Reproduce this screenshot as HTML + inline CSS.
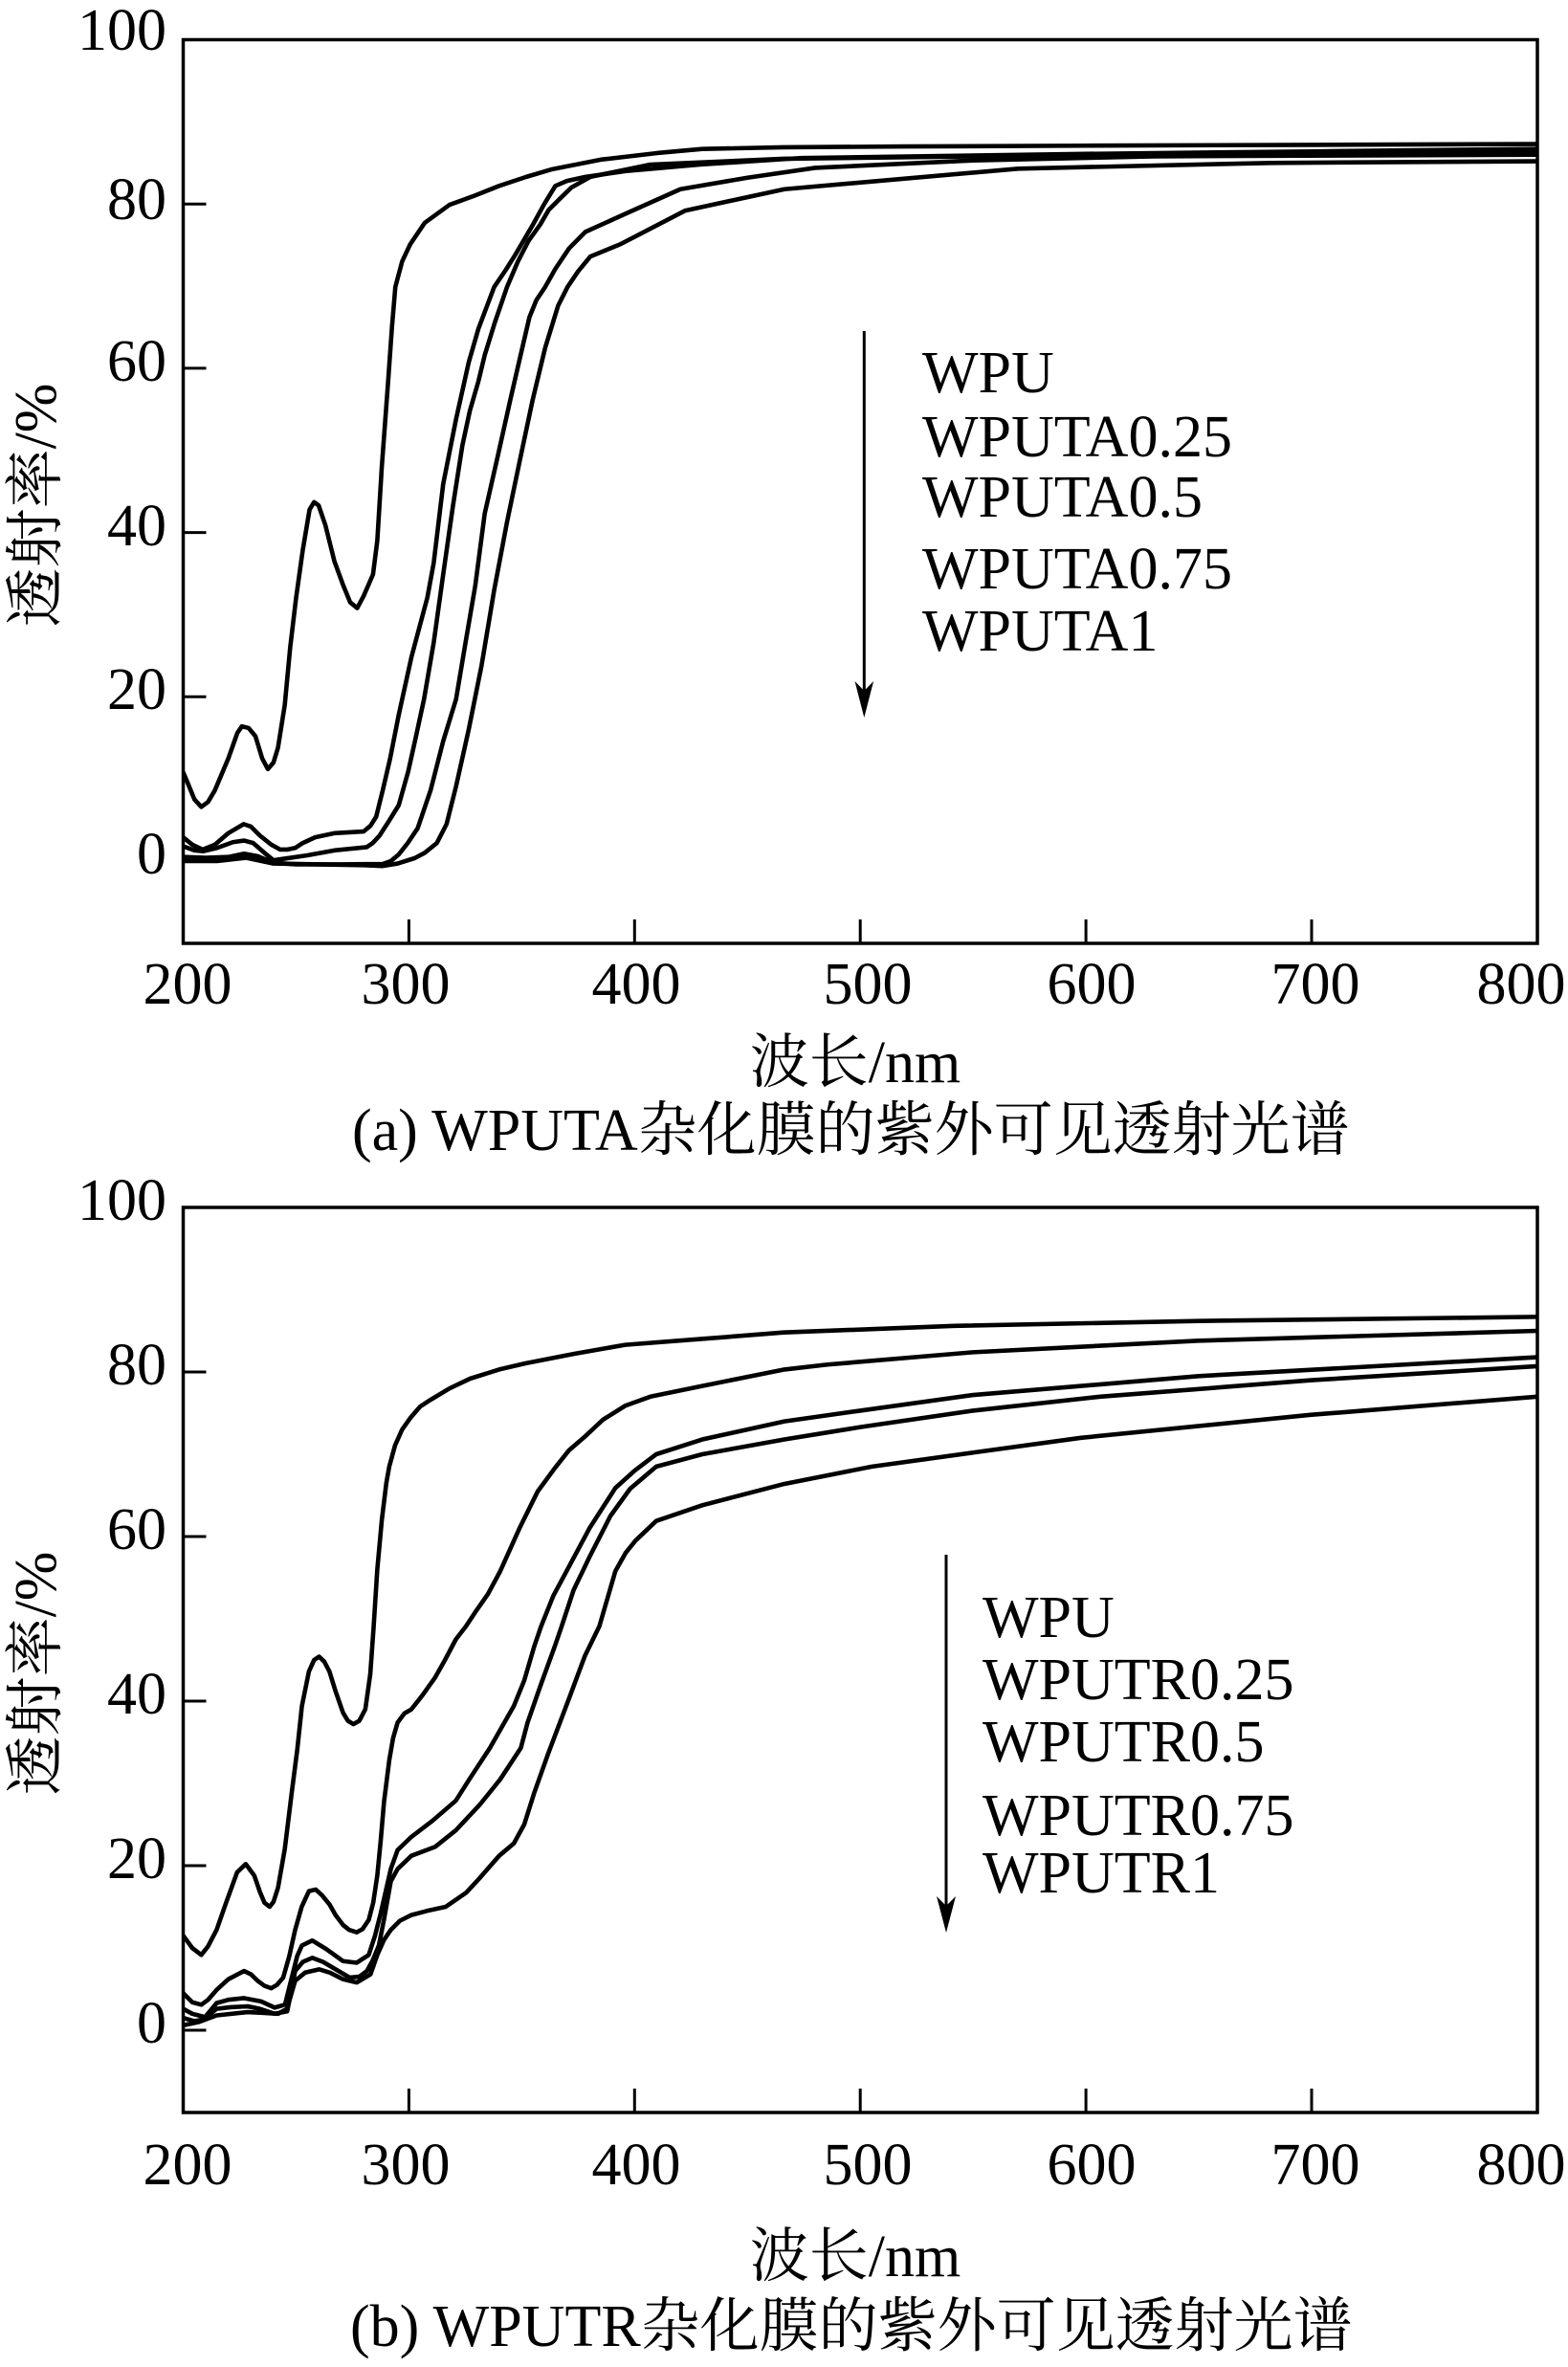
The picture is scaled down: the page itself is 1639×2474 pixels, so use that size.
<!DOCTYPE html>
<html><head><meta charset="utf-8"><style>
html,body{margin:0;padding:0;background:#fff;}
svg{display:block;}
text{font-family:"Liberation Serif","Noto Serif CJK SC",serif;font-size:62px;fill:#000;}
.c{fill:none;stroke:#000;stroke-width:4.6;stroke-linejoin:round;stroke-linecap:round;vector-effect:non-scaling-stroke;}
</style></head><body>
<svg width="1639" height="2474" viewBox="0 0 1639 2474" xmlns="http://www.w3.org/2000/svg">
<rect width="1639" height="2474" fill="#fff"/>
<defs>
<clipPath id="ca"><rect x="191.5" y="41.5" width="1415.5" height="944.5"/></clipPath>
<clipPath id="cb"><rect x="191.5" y="1262" width="1415.5" height="946"/></clipPath>
</defs>

<!-- ===== Plot A ===== -->
<g clip-path="url(#ca)">
<g transform="matrix(2.359,0,0,-8.585,-280.3,900)">
<polyline class="c" points="200,10.8 202,9.5 205,7.5 208,6.6 211,7.2 214,8.6 220,12.5 224,15.6 226,16.4 229,16.2 232,15.2 235,12.5 237.5,11.2 240,12 242,13.8 245,19 247.4,26 250,32 253,37.9 256,42.8 258,43.7 260,43.3 263,40.9 267,36.5 271,33.5 274,31.5 277.1,30.8 280,32.3 284.1,34.9 286,39 288,48 290.7,58 292.5,65 294,69.9 297,73 300.6,75.1 307,77.7 318,79.9 329,81 340,82.2 352,83.3 363,84.2 385,85.4 410,86.2 430,86.7 466,86.9 520,87 600,87.1 700,87.2 800,87.3"/>
<polyline class="c" points="200,2.9 204,2 208.6,1.4 214,2 220,3.4 226.8,4.5 230,4.2 234,3.1 239,2 243,1.4 246,1.4 249.6,1.6 253,2.2 258.5,2.9 267.2,3.4 279.9,3.6 283,4.3 285.5,5.4 288.4,8.6 291.7,12.5 295.5,17.8 301.1,24.8 308.2,32.1 311,36.3 315.2,45.9 320.9,53.8 326.5,60.7 330.8,64.8 337.8,69.9 343,72 347.1,73.8 355,77.5 360,80 364.9,82.2 370,82.8 378.2,83.3 395.9,84 429,84.8 474,85.6 600,86.1 700,86.4 800,86.7"/>
<polyline class="c" points="200,1.8 205,1.3 209,1.2 215,1.6 222,2.3 227,2.5 231,2.2 236,1 240,0.1 245,0.3 255,0.7 267,1.3 281.3,1.7 284,2.2 287,3.1 291,4.8 295.5,6.8 299.7,10.9 303,15 306.7,19.7 311,26.6 315.2,34.9 319.5,43.2 323.7,50.6 327,54.8 330.8,58.4 333.6,61.6 338,65.5 343.5,69.9 348.3,73 353,75.5 358.2,77.5 362,79.3 367.1,80.7 372,82 380.4,83.3 407,84.8 466,85.5 550,85.8 650,86 800,86.2"/>
<polyline class="c" points="200,0.5 210,0.4 220,0.5 227,0.9 233,0.6 240,-0.2 250,-0.4 270,-0.4 288.4,-0.35 292,0 295.5,0.8 299.5,2.2 303.9,4 309.6,8.6 315.2,14.6 320.9,19.7 325.1,26.6 329.4,33.5 333.6,42.3 339.3,49.2 344.9,56.1 349,61 353.4,66.2 356.5,68.3 360.4,69.9 364.9,72.1 371,74.6 378.2,76.6 395.9,78.8 420.3,81.8 450,83.2 480,84.4 550,85.3 630,85.8 800,86"/>
<polyline class="c" points="200,0 215,0 228,0.4 240,-0.3 260,-0.4 280,-0.5 288.4,-0.6 295,-0.3 302.5,0.35 307,1 312.4,2.2 316.7,4.5 320.9,9.1 326.5,16 332.2,23.8 337.8,33 343.5,41.3 349.1,48.7 354.8,56.1 360.4,62.5 366.1,67.6 370.3,69.9 375,71.8 380.4,73.6 393.7,75.1 422.5,79.2 466.4,81.8 570,84.3 682,85 800,85.2"/>
</g>
</g>
<!-- axes A -->
<rect x="191.5" y="41.5" width="1415.5" height="944.5" fill="none" stroke="#000" stroke-width="3.5"/>
<g stroke="#000" stroke-width="3">
<line x1="191.5" y1="213.2" x2="215.5" y2="213.2"/>
<line x1="191.5" y1="384.9" x2="215.5" y2="384.9"/>
<line x1="191.5" y1="556.6" x2="215.5" y2="556.6"/>
<line x1="191.5" y1="728.3" x2="215.5" y2="728.3"/>
<line x1="191.5" y1="900" x2="215.5" y2="900"/>
<line x1="427.4" y1="986" x2="427.4" y2="961"/>
<line x1="663.3" y1="986" x2="663.3" y2="961"/>
<line x1="899.2" y1="986" x2="899.2" y2="961"/>
<line x1="1135.1" y1="986" x2="1135.1" y2="961"/>
<line x1="1371" y1="986" x2="1371" y2="961"/>
</g>
<g text-anchor="end">
<text x="174" y="52">100</text>
<text x="174" y="229">80</text>
<text x="174" y="398">60</text>
<text x="174" y="570">40</text>
<text x="174" y="741">20</text>
<text x="174" y="913">0</text>
</g>
<g text-anchor="middle">
<text x="196" y="1049">200</text>
<text x="424" y="1049">300</text>
<text x="665" y="1049">400</text>
<text x="907" y="1049">500</text>
<text x="1141" y="1049">600</text>
<text x="1375" y="1049">700</text>
<text x="1590" y="1049">800</text>
<text x="894" y="1131">波长/nm</text>
</g>
<text x="0" y="0" text-anchor="middle" transform="translate(58,528) rotate(-90)">透射率/%</text>
<text x="368" y="1202">(a) WPUTA杂化膜的紫外可见透射光谱</text>
<!-- legend A -->
<line x1="903.3" y1="346" x2="903.3" y2="728" stroke="#000" stroke-width="3"/>
<path d="M903.3,750 L893.5,712 L903.3,722 L913.1,712 Z" fill="#000"/>
<text x="964" y="410">WPU</text>
<text x="964" y="477">WPUTA0.25</text>
<text x="964" y="540">WPUTA0.5</text>
<text x="964" y="615">WPUTA0.75</text>
<text x="964" y="680">WPUTA1</text>

<!-- ===== Plot B ===== -->
<g clip-path="url(#cb)">
<g transform="matrix(2.359,0,0,-8.6,-280.3,2122)">
<polyline class="c" points="200,11.5 204,10 208,9.15 211,10.2 214.8,12.2 219,15.5 223.9,19.2 227.7,20.2 231.5,18.8 234,16.8 236,15.5 238.3,15 240,15.6 242,17.3 245,22 248.1,28.9 250.5,34 252.6,39.4 255.7,43.6 258,45 260.2,45.4 262.5,44.8 264.8,43.6 267.5,41.2 270.8,38.6 273,37.6 275.4,37.2 278,37.6 280.7,39 282.9,43.3 284.4,49.1 286,56 288,62 290,66.5 291.3,68.5 293.9,71.1 297,73 300.6,74.4 305,75.8 309.5,76.6 318,78 327.2,79.2 340,80.3 351.6,81.05 373,82.2 395.9,83.3 429,84 466,84.8 541.7,85.6 650,86.2 800,86.7"/>
<polyline class="c" points="200,4.5 204,3.4 208,3.1 211,3.7 214.8,4.9 220,6.2 227,7.2 230,6.8 233,6 236,5.4 239,5.1 241.5,5.5 244.3,6.4 247,9 249.6,12.2 252.5,15 255.7,16.9 258.7,17.1 261.5,16.4 264.8,15.3 267.5,14 270.8,12.8 273.5,12.2 276.9,11.9 279.5,12.3 282.2,13.4 284.2,15.5 286,18.8 287.5,23 289,27.8 291.3,32.8 293,35.5 295,37.4 298,38.5 301.1,39 306,40.7 311.7,42.9 316,45 320.8,47.5 325.3,49.1 329.4,50.8 335,53 340.5,55.8 349,61 357.1,65.5 364.9,68.4 371,70.5 378.2,72.2 386,74.2 395.9,75.9 407,77 430,78.3 466.4,80.3 485.5,80.9 550,82.4 650,83.8 800,85"/>
<polyline class="c" points="200,2.6 204,2 209.7,1.6 214.8,3.3 220,3.7 227,3.9 234.5,3.5 240.5,2.75 245.1,3.1 248.1,6.4 250.5,9 252.6,10.3 257.2,10.9 263.2,9.9 270.8,8.4 276.9,8.2 282.2,9.15 285,11.5 287.5,14.2 292,19.6 295,21.9 301.1,23.5 310.2,25.4 320.8,27.9 326.8,30.5 335.9,34.3 346.5,39.4 351.1,42.5 355.6,46.7 358.6,49.1 364,52.8 369.3,55.5 380,61 391.5,65.9 400,68 409.6,70 430,71.8 466.4,74 500,75.3 550,77.2 650,79.5 800,81.8"/>
<polyline class="c" points="200,1.5 205,1.1 209,1.3 214.8,2.6 221,2.8 228.6,2.9 234,2.6 240.5,2 246.1,2.3 249.6,7.2 253,8.3 257.2,8.8 262,8.3 266.3,7.6 273.8,6.4 278,6.5 281.4,7.2 284,8.5 286.7,10.3 289,13.5 292,18.1 295,19.6 301.1,21.2 311.7,22.3 320.8,24.3 331.4,27.4 340.5,30.5 349.6,34.3 352.6,37.4 358.6,42.1 364.7,46.7 367.7,49.1 373,53.5 380,57.5 389.3,62.5 398,65.8 409.6,68.5 430,70 466.4,71.8 500,73.3 550,75.3 606.3,77 700,79 800,80.7"/>
<polyline class="c" points="200,0.6 207,1 214.8,1.8 228.6,2.2 236,2.1 242,2 246,2.6 249.6,6 254,7 260.2,7.4 265,7 270.8,6.2 276.9,5.8 283,6.8 286,9.15 289,11 292,12.2 296,13.3 301.1,14 308,14.5 316.3,15 325.3,16.7 331.4,18.5 340,21.2 346.5,22.7 351.1,25 355.6,28.9 361.7,33.6 370.8,40.2 378,45.5 384.4,49.1 391.5,55.8 396,58 400.4,59.5 409.6,61.9 430,63.8 466.4,66.4 505.2,68.5 550,70.2 597.8,72 700,74.8 800,77"/>
</g>
</g>
<!-- axes B -->
<rect x="191.5" y="1262" width="1415.5" height="946" fill="none" stroke="#000" stroke-width="3.5"/>
<g stroke="#000" stroke-width="3">
<line x1="191.5" y1="1434" x2="215.5" y2="1434"/>
<line x1="191.5" y1="1606" x2="215.5" y2="1606"/>
<line x1="191.5" y1="1778" x2="215.5" y2="1778"/>
<line x1="191.5" y1="1950" x2="215.5" y2="1950"/>
<line x1="191.5" y1="2122" x2="215.5" y2="2122"/>
<line x1="427.4" y1="2208" x2="427.4" y2="2183"/>
<line x1="663.3" y1="2208" x2="663.3" y2="2183"/>
<line x1="899.2" y1="2208" x2="899.2" y2="2183"/>
<line x1="1135.1" y1="2208" x2="1135.1" y2="2183"/>
<line x1="1371" y1="2208" x2="1371" y2="2183"/>
</g>
<g text-anchor="end">
<text x="174" y="1275">100</text>
<text x="174" y="1447">80</text>
<text x="174" y="1619">60</text>
<text x="174" y="1791">40</text>
<text x="174" y="1963">20</text>
<text x="174" y="2135">0</text>
</g>
<g text-anchor="middle">
<text x="196" y="2283">200</text>
<text x="424" y="2283">300</text>
<text x="665" y="2283">400</text>
<text x="907" y="2283">500</text>
<text x="1141" y="2283">600</text>
<text x="1375" y="2283">700</text>
<text x="1590" y="2283">800</text>
<text x="894" y="2379">波长/nm</text>
</g>
<text x="0" y="0" text-anchor="middle" transform="translate(58,1749) rotate(-90)">透射率/%</text>
<text x="366" y="2452">(b) WPUTR杂化膜的紫外可见透射光谱</text>
<!-- legend B -->
<line x1="989" y1="1625" x2="989" y2="1998" stroke="#000" stroke-width="3"/>
<path d="M989,2020 L979,1982 L989,1992 L999,1982 Z" fill="#000"/>
<text x="1027" y="1711">WPU</text>
<text x="1027" y="1776">WPUTR0.25</text>
<text x="1027" y="1841">WPUTR0.5</text>
<text x="1027" y="1918">WPUTR0.75</text>
<text x="1027" y="1978">WPUTR1</text>
</svg>
</body></html>
